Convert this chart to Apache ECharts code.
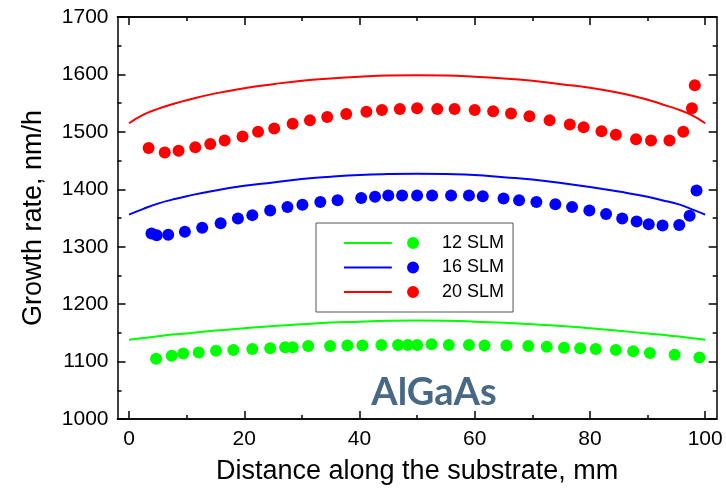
<!DOCTYPE html>
<html>
<head>
<meta charset="utf-8">
<script src="https://cdn.jsdelivr.net/npm/echarts@6/dist/echarts.min.js"></script>
<style>
  html, body { margin: 0; padding: 0; background: #fff; }
  #chart { width: 726px; height: 490px; }
</style>
</head>
<body>
<div id="chart"></div>
<script>
// Tick positions along the substrate (mm)
const xTicks = [0, 20, 40, 60, 80, 100];
const xMinorTicks = [10, 30, 50, 70, 90];

// Series names
const seriesNames = ['12 SLM', '16 SLM', '20 SLM'];
const seriesColors = ['#00ff00', '#0000ff', '#ff0000'];

// Calculated growth-rate profiles (solid curves)
const profileX = [0, 2.5, 5, 7.5, 10, 15, 20, 25, 30, 35, 40, 45, 50, 55, 60, 65, 70, 75, 80, 85, 90, 92.5, 95, 97.5, 100];
const profile12 = [1138, 1141, 1144, 1147, 1149, 1154, 1158, 1162, 1165, 1168, 1169.5, 1171, 1171.5, 1171, 1169.5, 1167.5, 1165, 1162, 1158, 1153.5, 1149, 1146.5, 1144, 1141, 1138];
const profile16 = [1356, 1366, 1375, 1382, 1388, 1398, 1406, 1412, 1418, 1422, 1425, 1426.5, 1427, 1426.5, 1425, 1421, 1417, 1411, 1404, 1396, 1387, 1381, 1375, 1366, 1356];
const profile20 = [1515, 1530, 1540, 1548, 1555, 1567, 1576, 1583, 1589, 1593, 1596, 1598, 1598.5, 1598, 1596, 1593, 1589, 1583, 1577, 1568, 1556, 1548, 1540, 1530, 1515];

// Measured growth rates (dots)
const meas12X = [4.7, 7.4, 9.4, 12.1, 15.1, 18.1, 21.4, 24.5, 27.1, 28.4, 31.1, 34.9, 37.9, 40.5, 43.8, 46.7, 48.4, 50.0, 52.5, 55.5, 59.0, 61.7, 65.5, 69.3, 72.5, 75.5, 78.3, 81.0, 84.5, 87.5, 90.4, 94.7, 99.0];
const meas12Y = [1105, 1110, 1114, 1116, 1119, 1120, 1122, 1123, 1125, 1125, 1127, 1127, 1128, 1128, 1129, 1129, 1129, 1129, 1130, 1129, 1129, 1128, 1128, 1127, 1126, 1124, 1123, 1122, 1120, 1118, 1115, 1112, 1107];

const meas16X = [3.9, 4.8, 6.8, 9.7, 12.7, 15.9, 18.9, 21.4, 24.5, 27.5, 30.1, 33.2, 36.2, 40.3, 42.7, 45.0, 47.4, 50.0, 52.6, 55.9, 59.0, 61.4, 65.0, 67.7, 70.7, 74.0, 76.9, 79.9, 82.8, 85.6, 88.1, 90.2, 92.6, 95.5, 97.3, 98.5];
const meas16Y = [1323, 1320, 1321, 1326, 1333, 1341, 1349, 1355, 1363, 1369, 1373, 1378, 1381, 1385, 1387, 1389, 1389, 1389, 1389, 1389, 1389, 1388, 1384, 1381, 1378, 1374, 1369, 1363, 1357, 1349, 1344, 1339, 1337, 1338, 1354, 1398];

const meas20X = [3.4, 6.2, 8.6, 11.5, 14.1, 16.6, 19.7, 22.4, 25.2, 28.4, 31.4, 34.4, 37.7, 41.2, 43.9, 47.0, 50.0, 53.5, 56.5, 60.0, 63.2, 66.3, 69.5, 73.0, 76.5, 78.9, 82.0, 84.5, 88.0, 90.6, 93.8, 96.2, 97.7, 98.2];
const meas20Y = [1472, 1464, 1467, 1473, 1479, 1485, 1492, 1500, 1506, 1514, 1520, 1526, 1531, 1535, 1538, 1540, 1541, 1540, 1540, 1538, 1536, 1532, 1527, 1520, 1513, 1508, 1501, 1495, 1487, 1485, 1485, 1500, 1541, 1581];

const profiles = [profile12, profile16, profile20];
const measX = [meas12X, meas16X, meas20X];
const measY = [meas12Y, meas16Y, meas20Y];

const zip = (xs, ys) => xs.map((x, i) => [x, ys[i]]);

const FONT = "'Liberation Sans', Arial, sans-serif";
const AXIS_COLOR = '#000';
const plain = v => String(v);

// Legend glyph: a short line followed by a dot
const legendIcon = 'path://M0 -1 L48 -1 L48 1 L0 1 Z M63.3 0 A6 6 0 1 0 75.3 0 A6 6 0 1 0 63.3 0 Z';

const xBase = {
  type: 'value', gridIndex: 0, min: -2, max: 102,
  splitLine: { show: false },
  axisLine: { show: true, onZero: false, lineStyle: { color: AXIS_COLOR, width: 1.5 } }
};

function xAxisDef(position, ticks, len, labels) {
  return Object.assign({}, xBase, {
    position: position,
    axisTick: { show: true, inside: true, length: len, customValues: ticks, lineStyle: { color: AXIS_COLOR, width: 1.5 } },
    axisLabel: labels ? { show: true, customValues: ticks, formatter: plain, margin: 10, fontSize: 21, color: '#000', fontFamily: FONT } : { show: false }
  });
}

const xAxes = [
  Object.assign(xAxisDef('bottom', xTicks, 8, true), {
    name: 'Distance along the substrate, mm', nameLocation: 'middle', nameGap: 39,
    nameTextStyle: { fontSize: 27, color: '#000', fontFamily: FONT }
  }),
  xAxisDef('bottom', xMinorTicks, 4, false),
  xAxisDef('top', xTicks, 8, false),
  xAxisDef('top', xMinorTicks, 4, false)
];

function yAxisDef(position, labels) {
  return {
    type: 'value', gridIndex: 0, position: position, min: 1000, max: 1700, interval: 100,
    splitLine: { show: false },
    axisLine: { show: true, onZero: false, lineStyle: { color: AXIS_COLOR, width: 1.5 } },
    axisTick: { show: true, inside: true, length: 8, lineStyle: { color: AXIS_COLOR, width: 1.5 } },
    minorTick: { show: true, splitNumber: 2, length: 4, lineStyle: { color: AXIS_COLOR, width: 1.5 } },
    minorSplitLine: { show: false },
    axisLabel: labels ? { show: true, formatter: plain, margin: 9, fontSize: 21, color: '#000', fontFamily: FONT } : { show: false }
  };
}

const yAxes = [
  Object.assign(yAxisDef('left', true), {
    name: 'Growth rate, nm/h', nameLocation: 'middle', nameGap: 70,
    nameTextStyle: { fontSize: 27, color: '#000', fontFamily: FONT }
  }),
  yAxisDef('right', false)
];

const series = [];
seriesNames.forEach((name, i) => {
  series.push({
    name: name, type: 'line', xAxisIndex: 0, yAxisIndex: 0,
    data: zip(profileX, profiles[i]), smooth: true, showSymbol: false, symbol: 'none',
    lineStyle: { color: seriesColors[i], width: 2 }, itemStyle: { color: seriesColors[i] },
    z: 2
  });
});
seriesNames.forEach((name, i) => {
  series.push({
    name: name, type: 'scatter', xAxisIndex: 0, yAxisIndex: 0,
    data: zip(measX[i], measY[i]), symbol: 'circle', symbolSize: 12,
    itemStyle: { color: seriesColors[i], opacity: 1 },
    z: 3
  });
});

const chart = echarts.init(document.getElementById('chart'), null, { renderer: 'canvas' });
chart.setOption({
  animation: false,
  backgroundColor: '#fff',
  grid: { left: 117.5, right: 9.3, top: 17, bottom: 68 },
  xAxis: xAxes,
  yAxis: yAxes,
  legend: {
    orient: 'vertical', left: 316, top: 223,
    data: seriesNames.map(n => ({ name: n, icon: legendIcon })),
    itemWidth: 75, itemHeight: 12, itemGap: 6.5,
    padding: [11, 9, 11, 28],
    borderColor: '#555', borderWidth: 1, backgroundColor: '#fff',
    selectedMode: false,
    textStyle: { fontSize: 18, lineHeight: 18, color: '#000', fontFamily: FONT, padding: [0, 0, 0, 18] }
  },
  graphic: [{
    type: 'text', x: 434, y: 393, z: 10,
    style: { text: 'AlGaAs', font: "bold 38px Lato, 'Open Sans', sans-serif", fill: '#476985', align: 'center', verticalAlign: 'middle' }
  }],
  series: series
});
</script>
</body>
</html>
